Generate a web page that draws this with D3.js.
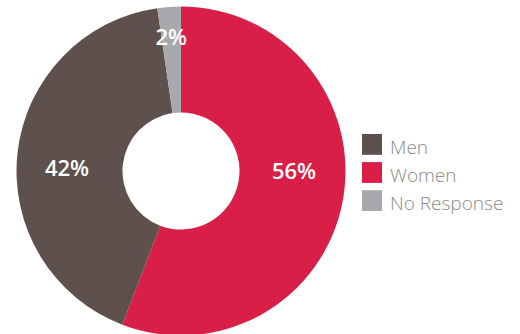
<!DOCTYPE html>
<html><head><meta charset="utf-8">
<script src="https://cdn.jsdelivr.net/npm/d3@7/dist/d3.min.js"></script>
<style>html,body{margin:0;padding:0;background:#fff;}svg{display:block;}</style>
</head><body>
<svg id="chart" width="520" height="334"></svg>
<script>
// Data
const categories = ["Women", "Men", "No Response"];   // drawing order, clockwise from top
const values = [55.8, 41.9, 2.3];
const labels = ["56%", "42%", "2%"];
const legendOrder = ["Men", "Women", "No Response"];
const colors = {"Men": "#5e514d", "Women": "#d91f48", "No Response": "#a7a9ac"};

const svg = d3.select("#chart");
const cx = 181, cy = 171, rOuter = 164.5, rInner = 58.5;

const pie = d3.pie().sort(null).value(d => d.v);
const data = pie(categories.map((c, i) => ({c, v: values[i], l: labels[i]})));
const arc = d3.arc().innerRadius(rInner).outerRadius(rOuter);

const g = svg.append("g").attr("transform", `translate(${cx},${cy})`);
g.selectAll("path").data(data).join("path")
  .attr("d", arc)
  .attr("fill", d => colors[d.data.c]);

const rMid = (rInner + rOuter) / 2;
const smallArc = d3.arc().innerRadius(rOuter * 0.815).outerRadius(rOuter * 0.815);
g.selectAll("text").data(data).join("text")
  .attr("transform", d => {
    const share = (d.endAngle - d.startAngle) / (2 * Math.PI);
    if (share > 0.1) {
      const mid = (d.startAngle + d.endAngle) / 2;
      const side = Math.sin(mid) >= 0 ? 1 : -1;
      // place on the horizontal through the centre, nudged toward the slice's mid-angle
      return `translate(${side * (rMid + (side < 0 ? 2.5 : 1.5))},${side < 0 ? -3 : 0})`;
    }
    const [x, y] = smallArc.centroid(d);
    return `translate(${x},${y})`;
  })
  .attr("text-anchor", "middle")
  .attr("dy", "0.36em")
  .attr("fill", "#fff")
  .attr("font-family", "'Open Sans', sans-serif")
  .attr("font-weight", 600)
  .attr("font-size", 22)
  .text(d => d.data.l);

// Legend
const legY = d3.scaleBand().domain(legendOrder).range([134, 211]).paddingInner(0.26).paddingOuter(0);
const leg = svg.append("g");
const items = leg.selectAll("g").data(legendOrder).join("g")
  .attr("transform", d => `translate(362,${legY(d)})`);
items.append("rect").attr("width", 20).attr("height", legY.bandwidth()).attr("fill", d => colors[d]);
items.append("text")
  .attr("x", 28).attr("y", legY.bandwidth() - 1)
  .attr("fill", "#8a8a8a")
  .attr("font-family", "'Open Sans', sans-serif")
  .attr("font-weight", 300)
  .attr("font-size", 19)
  .text(d => d);
</script>
</body></html>
